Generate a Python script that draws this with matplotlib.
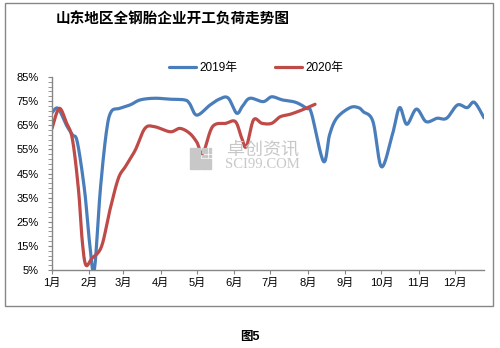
import numpy as np
import matplotlib.pyplot as plt
from matplotlib.patches import Rectangle

plt.rcParams['font.family'] = ['Liberation Sans', 'Noto Sans CJK SC']

# 周度开工负荷（x 为年内天数，y 为 %）
days_2019 = [0, 5, 12, 17, 21, 27, 31, 35, 40, 45, 49, 56, 65, 73, 85, 98, 110, 114,
             120, 131, 139, 146, 153, 158, 164, 175, 182, 191, 202, 211, 215, 225,
             230, 236, 247, 254, 258, 266, 273, 282, 288, 294, 302, 310, 319, 327,
             336, 344, 350, 358]
load_2019 = [70.2, 72.0, 65.0, 61.0, 58.0, 38.0, 17.0, 5.0, 38.0, 62.0, 70.6, 72.0,
             73.5, 75.5, 76.2, 75.8, 75.5, 74.0, 69.2, 73.4, 75.9, 76.3, 70.0, 73.0,
             76.2, 74.8, 76.8, 75.5, 74.5, 72.0, 70.0, 50.0, 61.0, 68.0, 72.3, 72.3,
             70.6, 66.5, 47.8, 61.0, 72.3, 65.4, 71.7, 66.5, 67.9, 67.9, 73.4, 72.3,
             74.5, 68.1]

days_2020 = [0, 6, 12, 17, 22, 25, 28, 33, 41, 48, 55, 61, 69, 77, 85, 98, 106, 114,
             120, 125, 133, 144, 152, 157, 161, 167, 174, 182, 189, 197, 207, 218]
load_2020 = [63.7, 72.0, 66.0, 59.0, 38.0, 17.4, 7.1, 9.8, 14.7, 29.9, 43.0, 48.0,
             54.7, 63.7, 64.4, 62.3, 63.7, 61.7, 58.0, 53.4, 64.4, 65.8, 66.5, 60.0,
             56.1, 67.2, 65.8, 65.8, 68.5, 69.5, 71.3, 73.7]

month_starts = [0, 31, 59, 90, 120, 151, 181, 212, 243, 273, 304, 334]
month_labels = [f'{m}月' for m in range(1, 13)]


def smooth(x, y, n=16):
    # Catmull-Rom 平滑曲线
    p = np.column_stack([x, y]).astype(float)
    p = np.vstack([p[0], p, p[-1]])
    t = np.linspace(0, 1, n, endpoint=False)[:, None]
    segs = []
    for i in range(1, len(p) - 2):
        p0, p1, p2, p3 = p[i - 1], p[i], p[i + 1], p[i + 2]
        segs.append(0.5 * (2 * p1 + (-p0 + p2) * t
                           + (2 * p0 - 5 * p1 + 4 * p2 - p3) * t ** 2
                           + (-p0 + 3 * p1 - 3 * p2 + p3) * t ** 3))
    segs.append(p[-2][None])
    s = np.vstack(segs)
    return s[:, 0], s[:, 1]


fig = plt.figure(figsize=(5, 3.48), dpi=100)
ax = fig.add_axes([0.104, 0.2241, 0.864, 0.5546])
ax.patch.set_alpha(0)

blue = '#4a7ebb'
red = '#be4b48'
xs, ys = smooth(days_2019, load_2019)
l1, = ax.plot(xs, ys, color=blue, lw=2.3, solid_capstyle='round', label='2019年')
xs, ys = smooth(days_2020, load_2020)
l2, = ax.plot(xs, ys, color=red, lw=2.3, solid_capstyle='round', label='2020年')

ax.set_xlim(0, 358)
ax.set_ylim(5, 85)
ax.set_yticks(np.arange(5, 86, 10))
ax.set_yticks(np.arange(5, 86, 2), minor=True)
ax.set_yticklabels([f'{v}%' for v in range(5, 86, 10)])
ax.set_xticks(month_starts)
ax.set_xticklabels(month_labels)

gray = '#868686'
for side in ['top', 'right']:
    ax.spines[side].set_visible(False)
for side in ['left', 'bottom']:
    ax.spines[side].set_color(gray)
    ax.spines[side].set_linewidth(1)
ax.tick_params(axis='y', which='major', length=3, color=gray, labelsize=8, pad=6.5)
ax.tick_params(axis='y', which='minor', length=3, color=gray)
ax.tick_params(axis='x', length=3, color=gray, labelsize=8, pad=3)

fig.legend(handles=[l1, l2], loc='center', bbox_to_anchor=(0.512, 0.805), ncol=2,
           frameon=False, fontsize=8.5, handlelength=2.3, handletextpad=0.25,
           columnspacing=3.2)

fig.text(0.346, 0.948, '山东地区全钢胎企业开工负荷走势图', fontsize=10.5,
         fontweight='bold', ha='center', va='center', family='Noto Sans CJK SC')

# 水印
wm = '#c8c8c8'
for (x0, y0) in [(190, 148), (190, 159.5), (201, 159.5)]:
    fig.patches.append(Rectangle((x0 / 500, 1 - (y0 + 10) / 348), 10 / 500, 10 / 348,
                                 transform=fig.transFigure, color=wm, zorder=0))
for i in range(3):
    for j in range(3):
        fig.patches.append(Rectangle(((202 + 3.3 * i) / 500,
                                      1 - (148 + 3.3 * j + 2) / 348), 2 / 500, 2 / 348,
                                     transform=fig.transFigure, color=wm, zorder=0))
fig.text(0.527, 1 - 150 / 348, '卓创资讯', fontsize=13, color=wm,
         ha='center', va='center', family='Noto Sans CJK SC', zorder=0)
fig.text(0.524, 1 - 165 / 348, 'SCI99.COM', fontsize=10.5, color=wm,
         ha='center', va='center', family='Liberation Serif', zorder=0)

# 外框
fig.patches.append(Rectangle((0.01, 1 - 306 / 348), 0.976, 303 / 348,
                             transform=fig.transFigure, fill=False,
                             edgecolor=gray, lw=1))

fig.text(0.5, 1 - 337 / 348, '图5', fontsize=9, fontweight='bold',
         ha='center', va='center', family=['Liberation Sans', 'Noto Sans CJK SC'])

fig.savefig('out.png', dpi=100)
